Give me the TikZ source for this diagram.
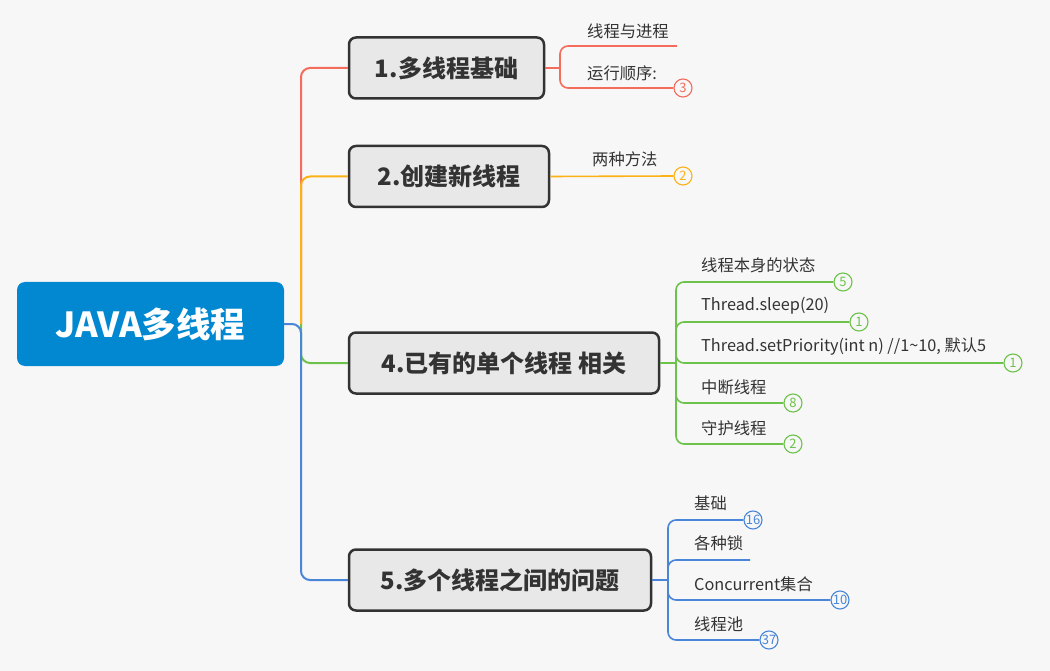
\documentclass[tikz,border=0pt]{standalone}
\usepackage{fontspec}
\setmainfont{Noto Sans CJK SC}
\usepackage{tikz}
\usetikzlibrary{positioning}

\definecolor{bgcol}{RGB}{247,247,247}
\definecolor{rootcol}{RGB}{2,136,209}
\definecolor{boxcol}{RGB}{232,232,232}
\definecolor{inkcol}{RGB}{51,51,51}
\definecolor{redcol}{RGB}{243,108,92}
\definecolor{orangecol}{RGB}{252,178,22}
\definecolor{greencol}{RGB}{108,194,74}
\definecolor{bluecol}{RGB}{74,134,216}

\begin{document}
\begin{tikzpicture}[
  x=1pt, y=-1pt,
  root/.style  = {rectangle, rounded corners=8pt, fill=rootcol, text=white,
                  minimum width=267pt, minimum height=84pt, inner sep=0pt,
                  font=\fontsize{34.5}{40}\selectfont\bfseries},
  topic/.style = {rectangle, rounded corners=7pt, draw=inkcol, line width=2.5pt,
                  fill=boxcol, text=inkcol, minimum height=61pt, inner sep=0pt,
                  font=\fontsize{24}{29}\selectfont\bfseries},
  leaf/.style  = {anchor=west, inner sep=0pt, text=inkcol,
                  font=\fontsize{16.3}{19}\selectfont},
  badge/.style = {circle, draw=#1, fill=bgcol, line width=1.1pt, text=#1,
                  minimum size=18pt, inner sep=0pt,
                  font=\fontsize{13}{15}\selectfont},
  trunk/.style = {line width=2pt, rounded corners=9pt, color=#1},
  twig/.style  = {line width=1.6pt, rounded corners=8pt, color=#1},
]
  \fill[bgcol] (0,0) rectangle (1050,671);
  \useasboundingbox (0,0) rectangle (1050,671);

  % main topics
  \node[root] (root) at (150.5,324) {JAVA多线程};
  \node[topic, minimum width=195pt] (t1) at (446.5,68)  {1.多线程基础};
  \node[topic, minimum width=200pt] (t2) at (449,176.5) {2.创建新线程};
  \node[topic, minimum width=310pt] (t4) at (504,363)   {4.已有的单个线程 相关};
  \node[topic, minimum width=302pt] (t5) at (500,580)   {5.多个线程之间的问题};

  \coordinate (j0) at (301,324);
  \draw[trunk=redcol]    (j0) |- (t1.west);
  \draw[trunk=greencol]  (j0) |- (t4.west);
  \draw[trunk=bluecol]   (root.east) -- (j0) |- (t5.west);
  \draw[trunk=orangecol] (j0) |- (t2.west);

  % 1
  \coordinate (j1) at (560,68);
  \coordinate (e11) at (677,46);
  \node[badge=redcol] (b12) at (683,88) {3};
  \node[leaf] (l11) at (587,31) {线程与进程};
  \node[leaf] (l12) at (587,73) {运行顺序:};
  \draw[twig=redcol] (t1.east) -- (j1);
  \draw[twig=redcol] (j1) |- (e11);
  \draw[twig=redcol] (j1) |- (b12.west);

  % 2
  \node[badge=orangecol] (b21) at (683,176) {2};
  \node[leaf] (l21) at (592,159) {两种方法};
  \draw[twig=orangecol] (t2.east) -- (b21.west);

  % 4
  \coordinate (j4) at (676,363);
  \node[badge=greencol] (b41) at (843,282)  {5};
  \node[badge=greencol] (b42) at (859,322)  {1};
  \node[badge=greencol] (b43) at (1013,363) {1};
  \node[badge=greencol] (b44) at (793,403)  {8};
  \node[badge=greencol] (b45) at (793,444)  {2};
  \node[leaf] (l41) at (701,265) {线程本身的状态};
  \node[leaf] (l42) at (701,306) {Thread.sleep(20)};
  \node[leaf] (l43) at (701,347) {Thread.setPriority(int n) //1\char`\~10, 默认5};
  \node[leaf] (l44) at (701,387) {中断线程};
  \node[leaf] (l45) at (701,428) {守护线程};
  \draw[twig=greencol] (t4.east) -- (j4);
  \foreach \b in {b41,b42,b43,b44,b45}
    \draw[twig=greencol] (j4) |- (\b.west);

  % 5
  \coordinate (j5) at (668,580);
  \node[badge=bluecol] (b51) at (753,520) {16};
  \coordinate (e52) at (750,560);
  \node[badge=bluecol] (b53) at (840,600) {10};
  \node[badge=bluecol] (b54) at (769,640) {37};
  \node[leaf] (l51) at (694,503) {基础};
  \node[leaf] (l52) at (694,543) {各种锁};
  \node[leaf] (l53) at (694,584) {Concurrent集合};
  \node[leaf] (l54) at (694,624) {线程池};
  \draw[twig=bluecol] (t5.east) -- (j5);
  \foreach \b in {b51,e52,b53,b54}
    \draw[twig=bluecol] (j5) |- (\b.west);
\end{tikzpicture}
\end{document}
